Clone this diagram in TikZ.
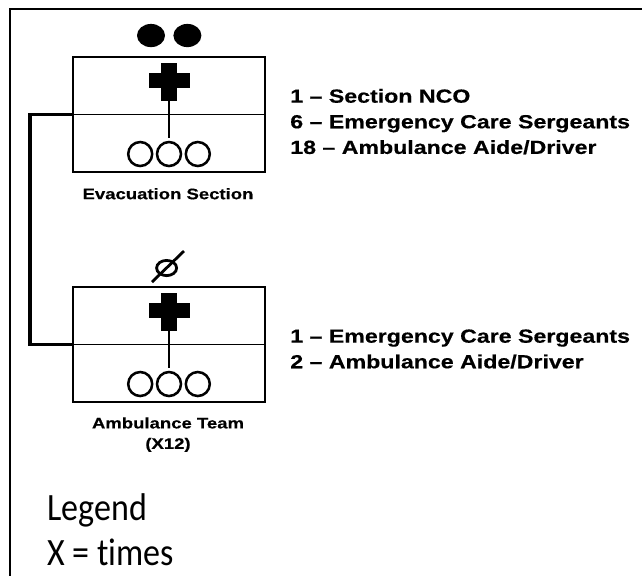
\documentclass[tikz,border=0pt]{standalone}
\usepackage{fontspec}
\newfontfamily\labfont[FakeStretch=1.22, BoldFeatures={FakeBold=0.4}]{Liberation Sans}
\newfontfamily\legfont[FakeStretch=0.88, Ligatures=NoCommon]{Carlito}

\begin{document}
\begin{tikzpicture}[
		unitbox/.style={draw, line width=1.4pt, minimum width=4.8cm, minimum height=2.875cm, inner sep=0pt},
		lab/.style={font=\labfont\bfseries\fontsize{10.8}{13}\selectfont, anchor=base, inner sep=0pt},
		staff/.style={font=\labfont\bfseries\fontsize{13.5}{16}\selectfont, anchor=base west, inner sep=0pt},
		legend/.style={font=\legfont\fontsize{27.5}{32}\selectfont, anchor=base west, inner sep=0pt},
		link/.style={line width=2.3pt}
	]
		\useasboundingbox (0, 0) rectangle (16.05, -14.375);
		\clip (0, 0) rectangle (16.05, -14.375);
		\draw [line width=1.8pt] (0.25, -0.23) rectangle (16.6, -15);

		\node [unitbox] (evac) at (4.225, -2.8625) {};
		\node [unitbox] (team) at (4.225, -8.6125) {};

		\foreach \b in {evac, team} {
			\draw [line width=1.4pt] (\b.west) -- (\b.east);
			\fill ([shift={(-0.2, -0.175)}]\b.north) rectangle ([shift={(0.2, -1.125)}]\b.north);
			\fill ([shift={(-0.5125, -0.425)}]\b.north) rectangle ([shift={(0.5125, -0.8)}]\b.north);
			\draw [line width=1.4pt] ([yshift=-1.1cm]\b.north) -- ([yshift=-2.06cm]\b.north);
			\foreach \x in {-0.72, 0, 0.72} {
				\draw [line width=1.8pt] ([shift={(\x, -2.45)}]\b.north) circle (0.3);
			}
		}

		\fill ([shift={(-0.45, 0.5125)}]evac.north) ellipse (0.35 and 0.29);
		\fill ([shift={(0.46, 0.5125)}]evac.north) ellipse (0.35 and 0.29);

		\draw [line width=2pt] ([shift={(-0.06, 0.45)}]team.north) ellipse (0.25 and 0.19);
		\draw [line width=2pt] ([shift={(-0.425, 0.1)}]team.north) -- ([shift={(0.375, 0.875)}]team.north);

		\draw [link] (evac.west) -- ++(-1.05, 0) |- (team.west);

		\node [lab] (evaclab) at (4.2, -4.98) {Evacuation Section};
		\node [lab] (teamlab) at (4.2, -10.71) {Ambulance Team};
		\node [lab] (teamnum) at (4.2, -11.22) {(X12)};

		\foreach \t [count=\i] in {1 – Section NCO, 6 – Emergency Care Sergeants, 18 – Ambulance Aide/Driver} {
			\node [staff] (evacstaff\i) at (7.25, {-1.927 - 0.64*\i}) {\t};
		}
		\foreach \t [count=\i] in {1 – Emergency Care Sergeants, 2 – Ambulance Aide/Driver} {
			\node [staff] (teamstaff\i) at (7.25, {-7.927 - 0.64*\i}) {\t};
		}

		\node [legend] (leghead) at (1.175, -13.0) {Legend};
		\node [legend] (legx) at (1.175, -14.125) {X = times};
	\end{tikzpicture}
\end{document}
